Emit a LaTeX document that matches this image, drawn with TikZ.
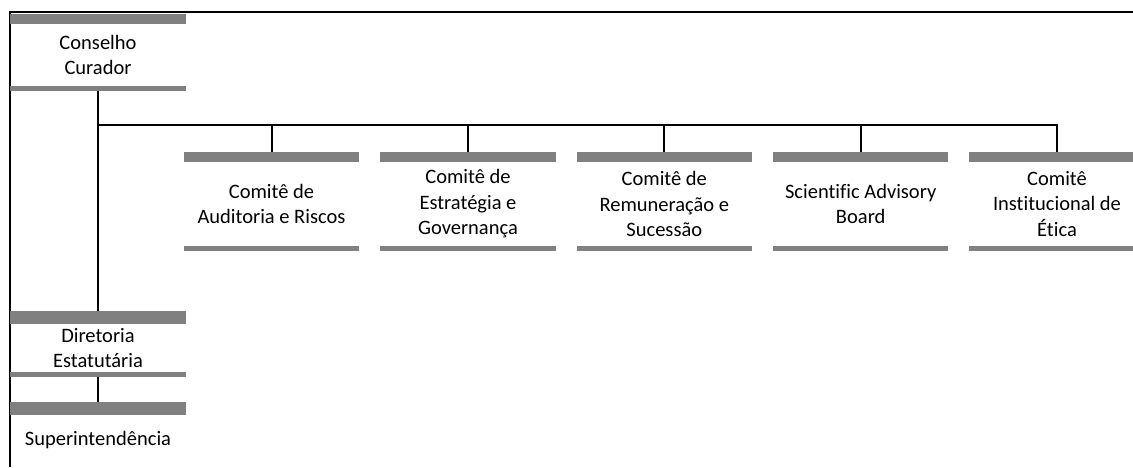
\documentclass[tikz,border=0pt]{standalone}
\usepackage{fontspec}
\setmainfont{Carlito}[Ligatures=CommonOff]
\usepackage{xcolor}
\usetikzlibrary{positioning,calc}

\definecolor{bargray}{RGB}{128,128,128}

\tikzset{
    orgbox/.style={minimum width=175pt, inner sep=0pt, align=center, font=\fontsize{20.5}{25.5}\selectfont},
    link/.style={line width=2pt},
    bar/.style={fill=bargray}
}

\begin{document}
\begin{tikzpicture}[x=1pt,y=-1pt]
    \useasboundingbox (0,0) rectangle (1133,467);
    \clip (0,0) rectangle (1133,467);
    \draw [line width=2pt] (10,467) -- (10,11.5) -- (1133,11.5); % Frame
    % Boxes (text between the bars)
    \node [orgbox, minimum height=62pt] (cc) at (98,55) {Conselho\\Curador};
    \node [orgbox, minimum height=48pt] (de) at (98,348) {Diretoria\\Estatutária};
    \node [orgbox, minimum height=50pt] (su) at (98,440) {Superintendência};
    \node [orgbox, minimum height=84pt] (c1) at (271.5,204) {Comitê de\\Auditoria e Riscos};
    \node [orgbox, minimum height=84pt] (c2) at (468,204) {Comitê de\\Estratégia e\\Governança};
    \node [orgbox, minimum height=84pt] (c3) at (664.3,204) {Comitê de\\Remuneração e\\Sucessão};
    \node [orgbox, minimum height=84pt] (c4) at (860.7,204) {Scientific Advisory\\Board};
    \node [orgbox, minimum height=84pt] (c5) at (1057,204) {Comitê\\Institucional de\\Ética};
    \coordinate (bus) at (98,125);
    % Connectors
    \draw [link] (cc.south) -- (de.north);
    \draw [link] (de.south) -- (su.north);
    \draw [link] (bus) -| (c5.north);
    \foreach \c in {c1,c2,c3,c4}
        \draw [link] (\c.north) -- (\c.north |- bus);
    % Bars
    \foreach \b in {cc,c1,c2,c3,c4,c5} {
        \fill [bar] (\b.north west) rectangle ([yshift=10pt]\b.north east);
        \fill [bar] (\b.south west) rectangle ([yshift=-4.5pt]\b.south east);
    }
    \fill [bar] (de.north west) rectangle ([yshift=13pt]de.north east);
    \fill [bar] (de.south west) rectangle ([yshift=-5pt]de.south east);
    \fill [bar] (su.north west) rectangle ([yshift=13pt]su.north east);
\end{tikzpicture}
\end{document}
